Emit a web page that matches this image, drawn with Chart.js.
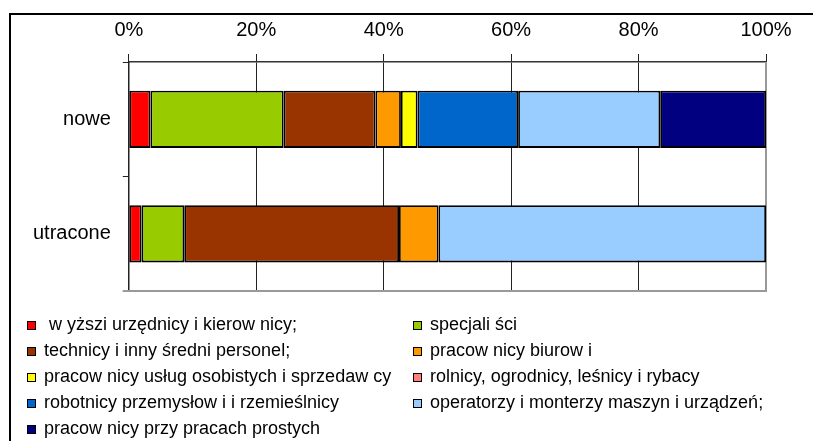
<!DOCTYPE html>
<html>
<head>
<meta charset="utf-8">
<script src="https://cdn.jsdelivr.net/npm/chart.js@4/dist/chart.umd.min.js"></script>
<style>
html,body{margin:0;padding:0;background:#fff;}
#wrap{position:relative;width:813px;height:441px;overflow:hidden;background:#fff;}
#frame{position:absolute;left:9px;top:13px;width:900px;height:600px;border:2px solid #000;box-sizing:border-box;}
#c{position:absolute;left:0;top:0;}
#legend{position:absolute;left:0;top:0;width:813px;height:441px;font-family:"Liberation Sans",Arial,sans-serif;font-size:18px;color:#000;}
.li{position:absolute;white-space:pre;line-height:20px;height:20px;}
.box{position:absolute;width:7px;height:7px;border:1px solid #000;}
</style>
</head>
<body>
<div id="wrap">
  <div id="frame"></div>
  <canvas id="c" width="813" height="441"></canvas>
  <div id="legend"></div>
</div>
<script>
// ---- data ----
const categories = ['nowe', 'utracone'];
const xTickLabels = ['0%', '20%', '40%', '60%', '80%', '100%'];

const seriesNames = [
  ' w yższi urzędnicy i kierow nicy;',
  'specjali ści',
  'technicy i inny średni personel;',
  'pracow nicy biurow i',
  'pracow nicy usług osobistych i sprzedaw cy',
  'rolnicy, ogrodnicy, leśnicy i rybacy',
  'robotnicy przemysłow i i rzemieślnicy',
  'operatorzy i monterzy maszyn i urządzeń;',
  'pracow nicy przy pracach prostych'
];
const seriesColors = ['#FF0000', '#99CC00', '#993300', '#FF9900', '#FFFF00', '#FF8080', '#0066CC', '#99CCFF', '#000080'];

const wyzsiUrzednicy   = [3.4, 2.0];
const specjalisci      = [20.9, 6.7];
const technicy         = [14.4, 33.7];
const biurowi          = [4.0, 6.2];
const uslugi           = [2.6, 0];
const rolnicy          = [0, 0];
const robotnicy        = [15.8, 0];
const operatorzy       = [22.3, 51.4];
const prostePrace      = [16.6, 0];

const seriesValues = [wyzsiUrzednicy, specjalisci, technicy, biurowi, uslugi, rolnicy, robotnicy, operatorzy, prostePrace];

// ---- chart ----
Chart.defaults.font.family = '"Liberation Sans", Arial, sans-serif';
Chart.defaults.font.size = 20;
Chart.defaults.color = '#000';

const plotBorder = {
  id: 'plotBorder',
  beforeDatasetsDraw(chart) {
    const { ctx, chartArea: a } = chart;
    ctx.save();
    ctx.strokeStyle = '#999';
    ctx.lineWidth = 2;
    ctx.beginPath();
    ctx.moveTo(a.right, a.top);
    ctx.lineTo(a.right, a.bottom + 1);
    ctx.moveTo(a.left - 6, a.bottom);
    ctx.lineTo(a.right + 1, a.bottom);
    ctx.stroke();
    ctx.restore();
  }
};

const datasets = seriesNames.map((name, i) => ({
  label: name,
  data: seriesValues[i],
  backgroundColor: seriesColors[i],
  borderColor: '#000',
  borderWidth: 1.8,
  borderSkipped: false,
  barPercentage: 0.5,
  categoryPercentage: 1.0
}));

const chart = new Chart(document.getElementById('c'), {
  type: 'bar',
  data: { labels: categories, datasets },
  options: {
    indexAxis: 'y',
    responsive: false,
    animation: false,
    devicePixelRatio: 1,
    layout: { padding: { left: 21, right: 47, top: 6, bottom: 150 } },
    plugins: { legend: { display: false }, tooltip: { enabled: false }, title: { display: false } },
    scales: {
      x: {
        position: 'top',
        stacked: true,
        min: 0,
        max: 100,
        ticks: {
          stepSize: 20,
          padding: 12,
          maxRotation: 0,
          callback: (v, i) => xTickLabels[i]
        },
        grid: {
          color: (ctx) => ctx.index === 5 ? '#999' : '#222',
          lineWidth: 1,
          tickLength: 8,
          tickColor: '#222'
        },
        border: { color: '#333', width: 1.5 }
      },
      y: {
        stacked: true,
        ticks: { padding: 12 },
        grid: {
          drawOnChartArea: false,
          drawTicks: true,
          tickLength: 6,
          offset: true,
          color: '#222'
        },
        border: { color: '#222', width: 1.5 }
      }
    }
  },
  plugins: [plotBorder]
});

// ---- HTML legend built from datasets ----
const legend = document.getElementById('legend');
const colX = [27, 413];
const rowY = [325.5, 351.5, 377.5, 403.5, 429.5];
chart.data.datasets.forEach((ds, i) => {
  const col = i % 2, row = Math.floor(i / 2);
  const cy = rowY[row];
  const box = document.createElement('div');
  box.className = 'box';
  box.style.left = colX[col] + 'px';
  box.style.top = (cy - 4.5) + 'px';
  box.style.background = ds.backgroundColor;
  legend.appendChild(box);
  const t = document.createElement('div');
  t.className = 'li';
  t.style.left = (colX[col] + 17) + 'px';
  t.style.top = (cy - 11.5) + 'px';
  t.textContent = ds.label;
  legend.appendChild(t);
});
</script>
</body>
</html>
